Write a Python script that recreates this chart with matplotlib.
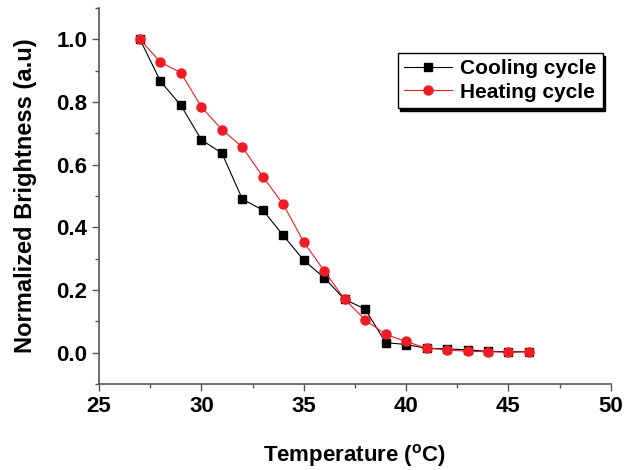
# plot cooling / heating brightness curves
import matplotlib
matplotlib.use('Agg')
import matplotlib.pyplot as plt
from matplotlib.ticker import MultipleLocator

plt.rcParams['font.family'] = ['Liberation Sans', 'DejaVu Sans']
plt.rcParams['font.weight'] = 'bold'
plt.rcParams['mathtext.fontset'] = 'custom'
plt.rcParams['mathtext.bf'] = 'Liberation Sans:bold'
plt.rcParams['mathtext.rm'] = 'Liberation Sans:bold'

# data
temp = [27, 28, 29, 30, 31, 32, 33, 34, 35, 36,
        37, 38, 39, 40, 41, 42, 43, 44, 45, 46]
cooling = [1.0, 0.866, 0.789, 0.679, 0.637, 0.490, 0.455, 0.374, 0.295, 0.239,
           0.170, 0.139, 0.032, 0.026, 0.014, 0.012, 0.009, 0.004, 0.003, 0.003]
heating = [1.0, 0.927, 0.893, 0.784, 0.712, 0.656, 0.562, 0.473, 0.353, 0.261,
           0.170, 0.105, 0.058, 0.036, 0.014, 0.009, 0.004, 0.003, 0.001, 0.003]

fig = plt.figure(figsize=(6.31, 4.70), dpi=100)
ax = fig.add_axes([0.157, 0.183, 0.811, 0.800])

ax.plot(temp, cooling, '-', color='black', lw=0.8, marker='s', ms=5.5,
        label='Cooling cycle')
ax.plot(temp, heating, '-', color='#ee1c25', lw=0.8, marker='o', ms=6.5,
        label='Heating cycle')

# axis limits
ax.set_xlim(25, 50)
ax.set_ylim(-0.1, 1.1)
ax.xaxis.set_major_locator(MultipleLocator(5))
ax.xaxis.set_minor_locator(MultipleLocator(2.5))
ax.yaxis.set_minor_locator(MultipleLocator(0.1))
ax.set_yticks([0.0, 0.2, 0.4, 0.6, 0.8, 1.0])
ax.set_yticklabels(['0.0', '0.2', '0.4', '0.6', '0.8', '1.0'])

# spines
for s in ['top', 'right']:
    ax.spines[s].set_visible(False)
for s in ['left', 'bottom']:
    ax.spines[s].set_color('#555555')
    ax.spines[s].set_linewidth(1.2)
ax.tick_params(which='major', direction='out', length=5, width=1, color='#555555',
               labelsize=16)
ax.tick_params(which='minor', direction='out', length=3, width=1, color='#555555')

# labels
ax.set_xlabel(r'Temperature ($^{\mathbf{o}}$C)', fontsize=16, fontweight='bold', labelpad=18)
ax.set_ylabel('Normalized Brightness (a.u)', fontsize=17, fontweight='bold', labelpad=14)

# legend
leg = ax.legend(loc='upper right', bbox_to_anchor=(0.984, 0.880), fontsize=15,
                fancybox=False, edgecolor='black', handlelength=2.3,
                borderpad=0.3, labelspacing=0.2, handletextpad=0.4, borderaxespad=0,
                shadow={'facecolor': 'black', 'edgecolor': 'black', 'alpha': 1})
leg.get_frame().set_linewidth(1.0)

fig.savefig('out.png', dpi=100)
